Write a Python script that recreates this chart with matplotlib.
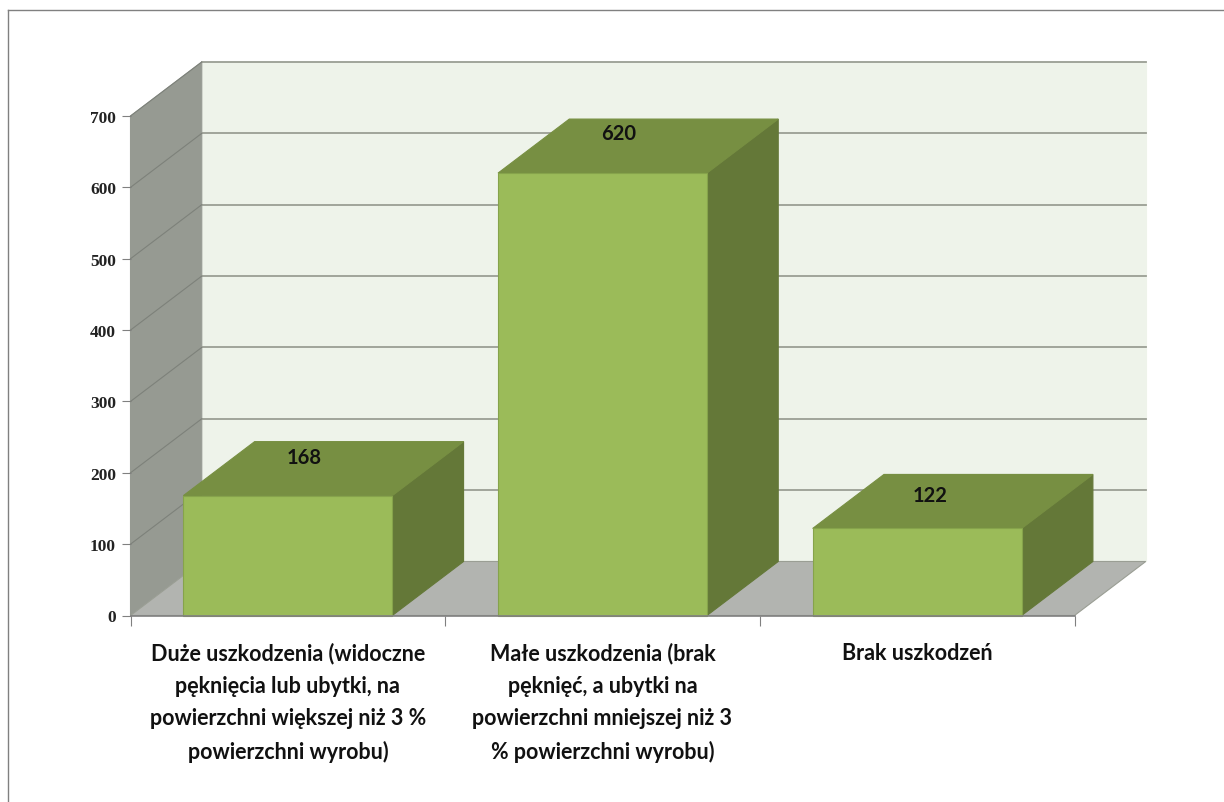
import matplotlib.pyplot as plt
from matplotlib.lines import Line2D
from matplotlib.patches import Polygon
import numpy as np

categories = [
    "Duże uszkodzenia (widoczne\npęknięcia lub ubytki, na\npowierzchni większej niż 3 %\npowierzchni wyrobu)",
    "Małe uszkodzenia (brak\npęknięć, a ubytki na\npowierzchni mniejszej niż 3\n% powierzchni wyrobu)",
    "Brak uszkodzeń",
]
values = [168, 620, 122]
y_ticks = [0, 100, 200, 300, 400, 500, 600, 700]

# perspective shift of the back of the box, in data units
DEPTH_X = 0.2265
DEPTH_Y = 75.7
BAR_WIDTH = 0.664

# value labels sit on the top faces, offsets in points from the front edge
label_offsets = [(11.5, 28), (11.5, 29), (9.5, 24)]

WALL = "#eef3ea"
SIDE_WALL = "#969a92"
FLOOR = "#b2b4b0"
GRID = "#9a9e94"
FRONT = "#9bbb59"
TOP = "#778f42"
SIDE = "#647838"

W, H = 1224, 803
fig = plt.figure(figsize=(W / 100, H / 100), dpi=100)
ax = fig.add_axes([130.5 / W, 1 - 616.5 / H, 944 / W, 499.5 / H])
ax.set_xlim(0, 3)
ax.set_ylim(0, 700)
ax.patch.set_visible(False)
for spine in ax.spines.values():
    spine.set_visible(False)


def face(points, color, edge=None, z=1):
    ax.add_patch(Polygon(points, closed=True, facecolor=color,
                         edgecolor=edge if edge else color, linewidth=0.8,
                         clip_on=False, zorder=z))


# walls and floor
face([(DEPTH_X, DEPTH_Y), (3 + DEPTH_X, DEPTH_Y), (3 + DEPTH_X, 700 + DEPTH_Y), (DEPTH_X, 700 + DEPTH_Y)], WALL)
face([(0, 0), (DEPTH_X, DEPTH_Y), (DEPTH_X, 700 + DEPTH_Y), (0, 700)], SIDE_WALL)
face([(0, 0), (3, 0), (3 + DEPTH_X, DEPTH_Y), (DEPTH_X, DEPTH_Y)], FLOOR, GRID)

# gridlines run along the side wall and the back wall
for v in y_ticks[1:]:
    ax.plot([DEPTH_X, 3 + DEPTH_X], [v + DEPTH_Y, v + DEPTH_Y], color=GRID, lw=1.3,
            clip_on=False, zorder=2)
    ax.plot([0, DEPTH_X], [v, v + DEPTH_Y], color="#7d817a", lw=0.8,
            clip_on=False, zorder=2)

# boxes
centers = np.arange(len(values)) + 0.5
for c, v, off in zip(centers, values, label_offsets):
    x0 = c - BAR_WIDTH / 2
    x1 = c + BAR_WIDTH / 2
    face([(x1, 0), (x1 + DEPTH_X, DEPTH_Y), (x1 + DEPTH_X, v + DEPTH_Y), (x1, v)], SIDE, z=3)
    face([(x0, v), (x1, v), (x1 + DEPTH_X, v + DEPTH_Y), (x0 + DEPTH_X, v + DEPTH_Y)], TOP, z=3)
    face([(x0, 0), (x1, 0), (x1, v), (x0, v)], FRONT, "#86a34b", z=4)
    ax.annotate(str(v), (c, v), xytext=off, textcoords="offset points",
                ha="center", va="center", fontsize=14.5, fontfamily="Lato",
                fontweight="bold", color="#111111", zorder=5, annotation_clip=False)

ax.set_yticks(y_ticks)
ax.set_xticks([0, 1, 2, 3])
ax.set_xticklabels([])
ax.set_xticks(centers, categories, minor=True)
ax.tick_params(axis="y", length=6.5, width=0.8, color="#808080", pad=4,
               labelsize=12.5, labelcolor="#222222")
ax.tick_params(axis="x", which="major", length=7, width=0.8, color="#808080")
ax.tick_params(axis="x", which="minor", length=0, pad=19)
for label in ax.get_yticklabels():
    label.set_fontfamily("Liberation Serif")
    label.set_fontweight("bold")
for label in ax.get_xticklabels(minor=True):
    label.set_fontfamily("Lato")
    label.set_fontweight("bold")
    label.set_fontsize(15.5)
    label.set_color("#111111")
    label.set_linespacing(1.66)
    label.set_ha("center")
    label.set_va("top")

ax.plot([0, 3], [0, 0], color="#808080", lw=1.2, clip_on=False, zorder=6)

# thin frame around the whole chart
frame = "#808080"
fig.add_artist(Line2D([8 / W, 8 / W], [0, 1 - 11 / H], color=frame, lw=1))
fig.add_artist(Line2D([8 / W, 1], [1 - 11 / H, 1 - 11 / H], color=frame, lw=1))

fig.savefig("out.png", dpi=100)
